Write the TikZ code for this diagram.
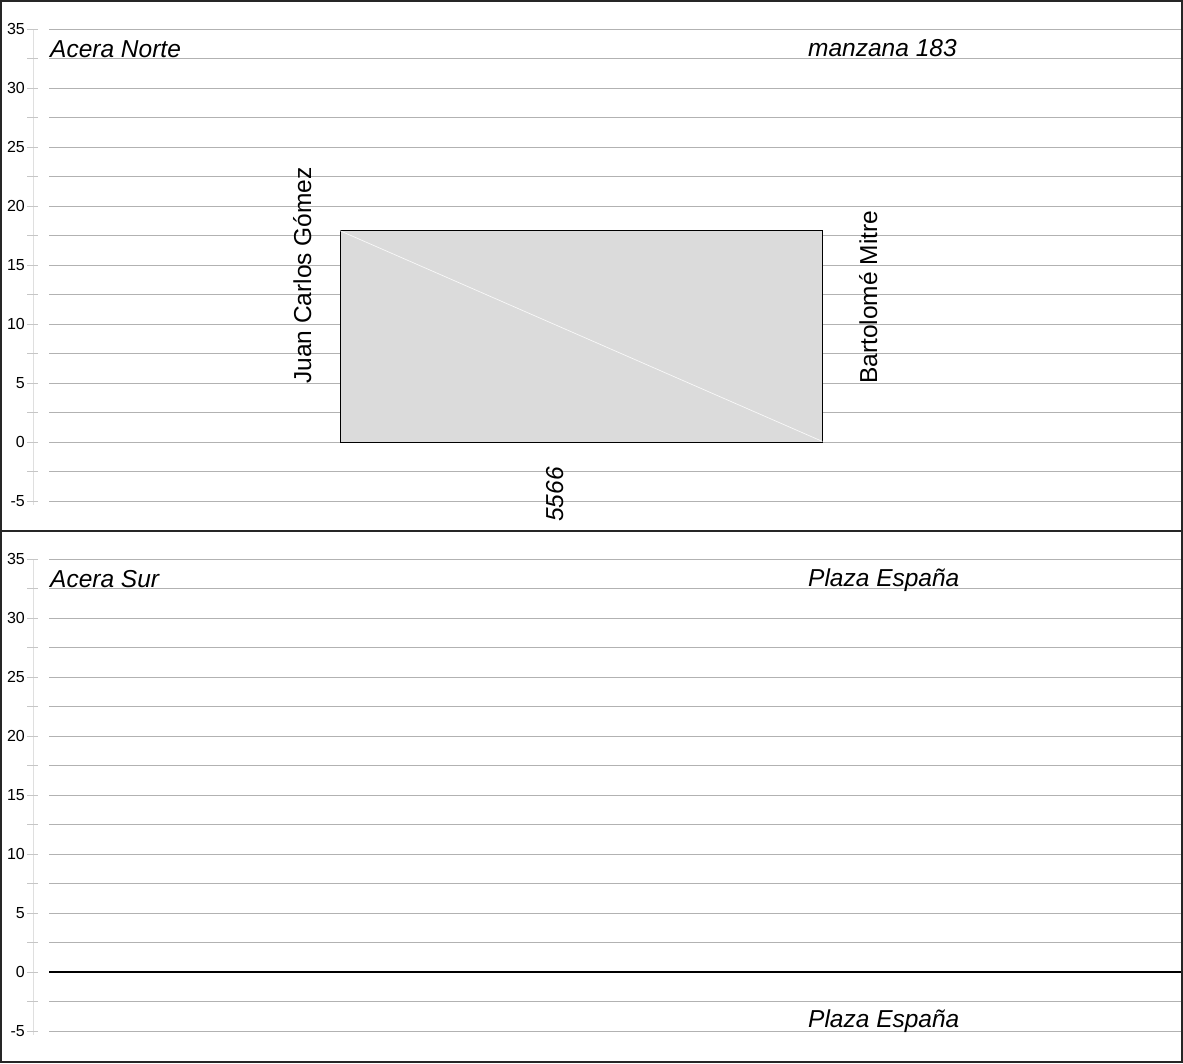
\documentclass[tikz,border=0pt]{standalone}
\usepackage{fontspec}
\setmainfont{Liberation Sans}
\begin{document}
\begin{tikzpicture}[x=1pt,y=-1pt,
  grid/.style={draw=gray!60,line width=0.9pt},
  axisline/.style={draw=gray!25,line width=1pt},
  tickmark/.style={draw=gray!45,line width=0.8pt},
  ticklabel/.style={anchor=east,inner sep=0pt,font=\fontsize{16}{16}\selectfont},
  title/.style={anchor=base west,inner sep=0pt,font=\fontsize{24.5}{24.5}\selectfont\itshape},
  street/.style={anchor=base west,inner sep=0pt,rotate=90,font=\fontsize{24.5}{24.5}\selectfont},
  lot/.style={draw=black,fill=gray!28,line width=0.9pt,inner sep=0pt,minimum width=482pt,minimum height=212pt},
  frame/.style={draw=black!85,line width=1.6pt}]
\useasboundingbox (0,0) rectangle (1183,1063);
% panels
\foreach \base/\pname in {442/top,972/bot}{
  \draw[axisline] (33,{\base-35*11.8}) -- (33,{\base+5*11.8+4});
  \foreach \k in {-2,...,14}{
    \pgfmathsetmacro{\yy}{\base-\k*2.5*11.8}
    \draw[grid] (49,\yy) -- (1182,\yy);
    \draw[tickmark] (27,\yy) -- (38,\yy);
  }
  \foreach \v in {-5,0,...,35}{
    \node[ticklabel] (lab\pname\v) at (25,{\base-\v*11.8}) {\v};
  }
}
% zero line bottom panel
\draw[black,line width=1.6pt] (49,972) -- (1182,972);
% lot rectangle
\node[lot] (lot) at (581,336) {};
\draw[white!95!gray,line width=0.7pt] ([yshift=-1pt]lot.north west) -- ([yshift=1pt]lot.south east);
% texts
\node[title] (norte) at (50,57) {Acera Norte};
\node[title] (manz) at (808,56) {manzana 183};
\node[title] (sur) at (50,587) {Acera Sur};
\node[title] (plaza1) at (808,586) {Plaza España};
\node[title] (plaza2) at (808,1027) {Plaza España};
\node[street] (jcg) at (311,384) {Juan Carlos Gómez};
\node[street] (bm) at (877,384) {Bartolomé Mitre};
\node[street,font=\fontsize{24.5}{24.5}\selectfont\itshape] (num) at (563,522) {5566};
% frame
\draw[frame] (1,1) rectangle (1182,1062);
\draw[frame] (1,531) -- (1182,531);
\end{tikzpicture}
\end{document}
